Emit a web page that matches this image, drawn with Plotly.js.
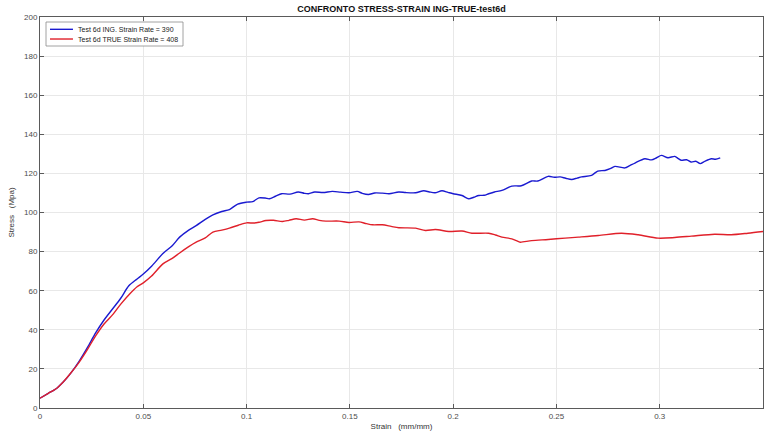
<!DOCTYPE html>
<html>
<head>
<meta charset="utf-8">
<script src="https://cdn.plot.ly/plotly-3.0.1.min.js"></script>
<style>html,body{margin:0;padding:0;background:#fff;}#chart{width:769px;height:434px;}</style>
</head>
<body>
<div id="chart"></div>
<script>
// Series 1: Test 6d ING (engineering)
const ingStrain = [0,0.004,0.008,0.011,0.015,0.019,0.023,0.027,0.031,0.035,0.039,0.043,0.047,0.05,0.054,0.0595,0.064,0.0676,0.072,0.0756,0.08,0.0837,0.088,0.0917,0.0957,0.1,0.103,0.106,0.109,0.111,0.114,0.117,0.121,0.125,0.128,0.130,0.133,0.137,0.1415,0.1455,0.1496,0.1536,0.156,0.159,0.162,0.1657,0.169,0.1737,0.177,0.1818,0.1858,0.1885,0.1912,0.1946,0.1975,0.2,0.2043,0.2075,0.21,0.2124,0.215,0.2172,0.22,0.2236,0.2284,0.233,0.238,0.241,0.246,0.249,0.2518,0.2545,0.2574,0.26,0.2622,0.267,0.270,0.2735,0.276,0.2783,0.2831,0.2855,0.288,0.2928,0.296,0.2985,0.3008,0.304,0.3073,0.309,0.3105,0.313,0.3153,0.3175,0.3196,0.322,0.325,0.327,0.3293];
const ingStress = [5,7.5,10,13,18,24,31,38.5,45,50.5,56,62.5,66,68.5,72.5,79,83,87.4,91,93.3,96.5,98.8,100.5,101.5,104.3,105.3,105.6,107.5,107.4,107,108.3,109.6,109.4,110.5,109.8,109.6,110.5,110.2,110.8,110.4,110.1,110.8,109.8,109.2,110,109.9,109.6,110.5,110.2,110.1,111.1,110.5,110.1,111.1,110.3,109.6,108.7,107,107.8,108.7,108.8,109.6,110.5,111.3,113.5,113.7,116.1,116.1,118.5,118,118.2,117.5,116.9,117.6,118.2,119,121.2,121.5,122.4,123.6,122.8,124,125.3,127.5,126.9,128,129.2,128,128.7,127.6,126.7,127,125.8,126.2,125,126.3,127.5,127.2,127.9];

// Series 2: Test 6d TRUE
const trueStrain = [0,0.004,0.008,0.011,0.015,0.019,0.023,0.027,0.031,0.0354,0.039,0.0434,0.047,0.05,0.054,0.0595,0.064,0.0676,0.072,0.0756,0.08,0.0837,0.088,0.0917,0.096,0.1,0.1035,0.106,0.1094,0.113,0.1174,0.1205,0.124,0.128,0.132,0.1352,0.1384,0.1448,0.1496,0.1544,0.158,0.161,0.1657,0.17,0.1737,0.1818,0.1866,0.1914,0.1979,0.2043,0.2091,0.2172,0.2205,0.2236,0.2284,0.2317,0.2325,0.238,0.246,0.2542,0.2606,0.2703,0.2815,0.2896,0.2992,0.3073,0.3153,0.3266,0.3346,0.3427,0.35];
const trueStress = [5,7.5,10,13,18,23.5,30,37,43,48,53,58.3,62,64,67.5,73.7,76.5,79.3,82.5,84.8,87,90,91,92,93.5,94.7,94.6,95,95.9,96,95.4,96,96.8,96.1,96.8,96,95.6,95.6,94.9,95.2,94.3,93.7,93.7,92.9,92.2,92,90.8,91.3,90.3,90.5,89.4,89.4,88.5,87.4,86.5,85.1,84.8,85.6,86.2,86.9,87.4,88.2,89.4,88.6,86.9,87.2,87.9,88.9,88.6,89.4,90.3];

const seriesNames = ["Test 6d ING. Strain Rate = 390", "Test 6d TRUE Strain Rate = 408"];
const seriesColors = ["#1a1ad0", "#e0202a"];
const xTicks = [0,0.05,0.1,0.15,0.2,0.25,0.3,0.35];
const xTickText = ["0","0.05","0.1","0.15","0.2","0.25","0.3","0.35"];
const yTicks = [0,20,40,60,80,100,120,140,160,180,200];

const font = "Liberation Sans, Arial, sans-serif";
const traces = [
  {x: ingStrain, y: ingStress, name: seriesNames[0], mode: "lines",
   line: {color: seriesColors[0], width: 1.4, shape: "spline", smoothing: 0.8}},
  {x: trueStrain, y: trueStress, name: seriesNames[1], mode: "lines",
   line: {color: seriesColors[1], width: 1.4, shape: "spline", smoothing: 0.8}}
];
const axisCommon = {
  showline: true, linecolor: "#5a5a5a", linewidth: 1, mirror: "ticks",
  ticks: "inside", ticklen: 4, tickcolor: "#5a5a5a",
  showgrid: true, gridcolor: "#e8e8e8", gridwidth: 1, zeroline: false,
  tickfont: {family: font, size: 8, color: "#4d4d4d"}
};

// Compact legend box (MATLAB style), drawn in paper coordinates
const legendBox = {x0: 0.0083, x1: 0.1978, y0: 0.9258, y1: 0.9872};
const legendRows = [0.9685, 0.9437];
const shapes = [{type: "rect", xref: "paper", yref: "paper", x0: legendBox.x0, x1: legendBox.x1,
  y0: legendBox.y0, y1: legendBox.y1, line: {color: "#8a8a8a", width: 0.8}, fillcolor: "#fff", layer: "above"}];
const annotations = [];
seriesNames.forEach((n, i) => {
  shapes.push({type: "line", xref: "paper", yref: "paper", x0: 0.0138, x1: 0.0456,
    y0: legendRows[i], y1: legendRows[i], line: {color: seriesColors[i], width: 1.4}, layer: "above"});
  annotations.push({xref: "paper", yref: "paper", x: 0.0495, y: legendRows[i], xanchor: "left", yanchor: "middle",
    text: n, showarrow: false, font: {family: font, size: 7, color: "#222"}});
});

const layout = {
  width: 769, height: 434,
  margin: {l: 40, r: 6, t: 17, b: 26},
  paper_bgcolor: "#fff", plot_bgcolor: "#fff",
  title: {text: "<b>CONFRONTO STRESS-STRAIN ING-TRUE-test6d</b>", font: {family: font, size: 9, color: "#111"},
          x: 0.5, xref: "paper", y: 1 - 9/434, yref: "container", yanchor: "middle"},
  xaxis: Object.assign({}, axisCommon, {range: [0, 0.35], tickvals: xTicks, ticktext: xTickText,
    title: {text: "Strain\u00a0\u00a0\u00a0(mm/mm)", font: {family: font, size: 8, color: "#333"}, standoff: 3}}),
  yaxis: Object.assign({}, axisCommon, {range: [0, 200], tickvals: yTicks,
    title: {text: "Stress\u00a0\u00a0\u00a0(Mpa)", font: {family: font, size: 8, color: "#333"}, standoff: 8}}),
  showlegend: false,
  shapes: shapes,
  annotations: annotations
};
Plotly.newPlot("chart", traces, layout, {staticPlot: true, displayModeBar: false});
</script>
</body>
</html>
